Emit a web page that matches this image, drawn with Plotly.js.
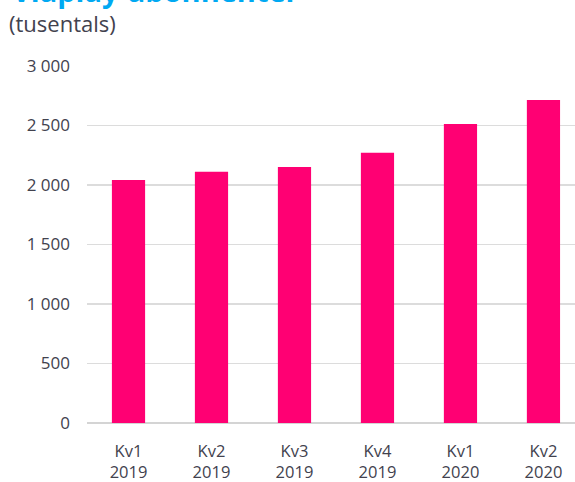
<!DOCTYPE html>
<html>
<head>
<meta charset="utf-8">
<script src="https://cdn.plot.ly/plotly-3.0.1.min.js"></script>
<style>html,body{margin:0;padding:0;background:#fff;overflow:hidden}</style>
</head>
<body>
<div id="chart" style="width:575px;height:482px"></div>
<script>
const categories = ["Kv1<br>2019","Kv2<br>2019","Kv3<br>2019","Kv4<br>2019","Kv1<br>2020","Kv2<br>2020"];
const subscribers = [2042, 2112, 2151, 2272, 2513, 2714];
const yTickVals = [0, 500, 1000, 1500, 2000, 2500, 3000];
const yTickText = ["0", "500", "1 000", "1 500", "2 000", "2 500", "3 000"];
const titleText = "Viaplay-abonnenter";
const subtitleText = "(tusentals)";

const textColor = "#42424e";
const fontFam = "Open Sans, Noto Sans, sans-serif";

Plotly.newPlot("chart", [{
  type: "bar",
  x: categories.map((c,i)=>i),
  y: subscribers,
  marker: {color: "#ff0073"},
  width: 0.4,
  hoverinfo: "none"
}], {
  width: 575, height: 482,
  margin: {l: 87, r: 0, t: 66, b: 59},
  paper_bgcolor: "#fff", plot_bgcolor: "#fff",
  showlegend: false,
  font: {family: fontFam, color: textColor, size: 16},
  xaxis: {
    range: [-0.5, 5.38],
    tickvals: [0,1,2,3,4,5],
    ticktext: categories,
    ticks: "",
    showgrid: false,
    zeroline: false,
    showline: false,
    ticklabelstandoff: 16,
    tickfont: {size: 16.5, color: textColor, family: fontFam},
    fixedrange: true
  },
  yaxis: {
    range: [0, 3000],
    tickvals: yTickVals,
    ticktext: yTickText,
    ticks: "",
    showgrid: true,
    gridcolor: "#dcdcdc",
    gridwidth: 1.5,
    zeroline: true,
    zerolinecolor: "#d4d4d4",
    zerolinewidth: 1.5,
    showline: false,
    ticklabelstandoff: 16,
    tickfont: {size: 17, color: textColor, family: fontFam},
    fixedrange: true
  },
  annotations: [
    {text: "<b>" + titleText + "</b>", xref: "paper", yref: "paper", x: -87/488, y: 1 + 54.5/357,
     xanchor: "left", yanchor: "bottom", showarrow: false, xshift: 10,
     font: {family: fontFam, size: 29, color: "#00a9f2"}},
    {text: subtitleText, xref: "paper", yref: "paper", x: -87/488, y: 1 + 26/357,
     xanchor: "left", yanchor: "bottom", showarrow: false, xshift: 7,
     font: {family: fontFam, size: 22, color: textColor}}
  ]
}, {displayModeBar: false, staticPlot: true});
</script>
</body>
</html>
